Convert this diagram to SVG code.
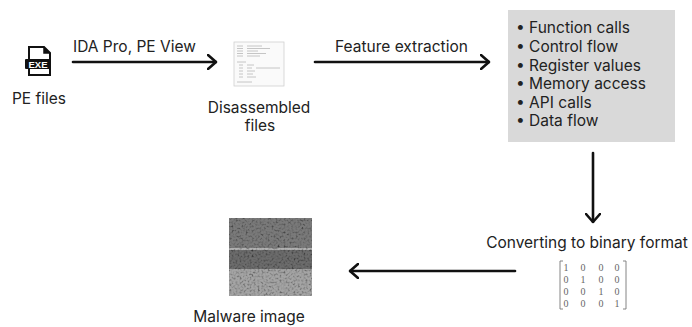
<svg xmlns="http://www.w3.org/2000/svg" width="692" height="327" viewBox="0 0 692 327">
  <defs>
    <style>
      .lbl { font-family: Inter, "Liberation Sans", sans-serif; font-size: 15.5px; fill: #222; }
      .edge { stroke: #111; stroke-width: 2.6; fill: none; stroke-linecap: round; stroke-linejoin: round; }
      .mx { font-family: "Liberation Serif", serif; font-size: 10px; fill: #666; text-anchor: middle; }
      .dis { stroke: #b8b8b8; stroke-width: 0.8; }
    </style>
    <marker id="head" viewBox="0 0 10 16" refX="9" refY="8" markerWidth="10" markerHeight="16" markerUnits="userSpaceOnUse" orient="auto">
      <path d="M1,1 L9,8 L1,15" fill="none" stroke="#111" stroke-width="2.6" stroke-linecap="round" stroke-linejoin="round"/>
    </marker>
    <!-- grainy grey texture for the byte-plot picture -->
    <filter id="noise" x="0" y="0" width="100%" height="100%">
      <feTurbulence type="fractalNoise" baseFrequency="0.5" numOctaves="2" seed="7" result="t"/>
      <feColorMatrix in="t" type="matrix" values="1 1 1 0 -0.6  1 1 1 0 -0.6  1 1 1 0 -0.6  0 0 0 0 1" result="g"/>
      <feComposite in="g" in2="SourceGraphic" operator="in" result="m"/>
      <feBlend in="SourceGraphic" in2="m" mode="multiply"/>
    </filter>
  </defs>

  <rect width="692" height="327" fill="#ffffff"/>

  <!-- PE files -->
  <g id="pe-files">
    <path d="M29,47 L44,47 L50,53 L50,75 L29,75 Z" fill="#fff" stroke="#111" stroke-width="2"/>
    <path d="M44,47 L44,53 L50,53" fill="#111" stroke="#111" stroke-width="1.5"/>
    <rect x="25" y="59" width="26" height="10" rx="1" fill="#111"/>
    <text x="38" y="67.5" text-anchor="middle" font-family="'Liberation Sans', sans-serif" font-weight="bold" font-size="9.5" fill="#fff">EXE</text>
    <text class="lbl" x="39" y="104" text-anchor="middle">PE files</text>
  </g>

  <!-- Disassembled files -->
  <g id="disassembled">
    <rect x="234" y="42" width="50" height="44" fill="#fafafa" stroke="#d0d0d0" stroke-width="0.8"/>
    <g class="dis">
      <line x1="237" y1="46" x2="243" y2="46"/><line x1="247" y1="46" x2="262" y2="46"/>
      <line x1="237" y1="48.5" x2="243" y2="48.5"/><line x1="247" y1="48.5" x2="270" y2="48.5"/>
      <line x1="237" y1="51" x2="243" y2="51"/><line x1="247" y1="51" x2="258" y2="51"/>
      <line x1="237" y1="53.5" x2="243" y2="53.5"/><line x1="247" y1="53.5" x2="266" y2="53.5"/>
      <line x1="237" y1="56" x2="243" y2="56"/><line x1="247" y1="56" x2="260" y2="56"/>
      <line x1="237" y1="62" x2="246" y2="62"/>
      <line x1="239" y1="65" x2="243" y2="65"/><line x1="247" y1="65" x2="254" y2="65"/>
      <line x1="239" y1="68" x2="243" y2="68"/><line x1="247" y1="68" x2="252" y2="68"/><line x1="256" y1="68" x2="280" y2="68"/>
      <line x1="239" y1="71" x2="243" y2="71"/><line x1="247" y1="71" x2="255" y2="71"/>
      <line x1="239" y1="74" x2="243" y2="74"/><line x1="247" y1="74" x2="253" y2="74"/>
      <line x1="239" y1="77" x2="243" y2="77"/><line x1="247" y1="77" x2="256" y2="77"/>
      <line x1="237" y1="82" x2="252" y2="82"/>
    </g>
    <text class="lbl" x="259" y="113" text-anchor="middle">Disassembled</text>
    <text class="lbl" x="260" y="131" text-anchor="middle">files</text>
  </g>

  <!-- Extracted features -->
  <g id="features">
    <rect x="508" y="10" width="167" height="132" fill="#d9d9d9"/>
    <g class="lbl">
      <text x="516" y="33">•  Function calls</text>
      <text x="516" y="52">•  Control flow</text>
      <text x="516" y="70.5">•  Register values</text>
      <text x="516" y="89">•  Memory access</text>
      <text x="516" y="107.5">•  API calls</text>
      <text x="516" y="126">•  Data flow</text>
    </g>
  </g>

  <!-- Binary conversion -->
  <g id="binary">
    <text class="lbl" x="587" y="248" text-anchor="middle">Converting to binary format</text>
    <path d="M563,261 L560,261 L560,309 L563,309" fill="none" stroke="#777" stroke-width="0.9"/>
    <path d="M623,261 L626,261 L626,309 L623,309" fill="none" stroke="#777" stroke-width="0.9"/>
    <g class="mx">
      <text x="566" y="271">1</text><text x="583" y="271">0</text><text x="601" y="271">0</text><text x="617" y="271">0</text>
      <text x="566" y="283">0</text><text x="583" y="283">1</text><text x="601" y="283">0</text><text x="617" y="283">0</text>
      <text x="566" y="295">0</text><text x="583" y="295">0</text><text x="601" y="295">1</text><text x="617" y="295">0</text>
      <text x="566" y="307">0</text><text x="583" y="307">0</text><text x="601" y="307">0</text><text x="617" y="307">1</text>
    </g>
  </g>

  <!-- Malware image -->
  <g id="malware-image">
    <g filter="url(#noise)">
      <rect x="229" y="218" width="83" height="30" fill="#7a7a7a"/>
      <rect x="229" y="248" width="83" height="2" fill="#b0b0b0"/>
      <rect x="229" y="250" width="83" height="19" fill="#6c6c6c"/>
      <rect x="229" y="269" width="83" height="27" fill="#a4a4a4"/>
    </g>
    <text class="lbl" x="249" y="322" text-anchor="middle">Malware image</text>
  </g>

  <!-- Connectors -->
  <g id="connectors">
    <line class="edge" x1="73" y1="62" x2="216" y2="62" marker-end="url(#head)"/>
    <text class="lbl" x="73" y="52">IDA Pro, PE View</text>
    <line class="edge" x1="315" y1="62" x2="489" y2="62" marker-end="url(#head)"/>
    <text class="lbl" x="335" y="52">Feature extraction</text>
    <line class="edge" x1="593" y1="153" x2="593" y2="222" marker-end="url(#head)"/>
    <line class="edge" x1="515" y1="271" x2="350" y2="271" marker-end="url(#head)"/>
  </g>
</svg>
